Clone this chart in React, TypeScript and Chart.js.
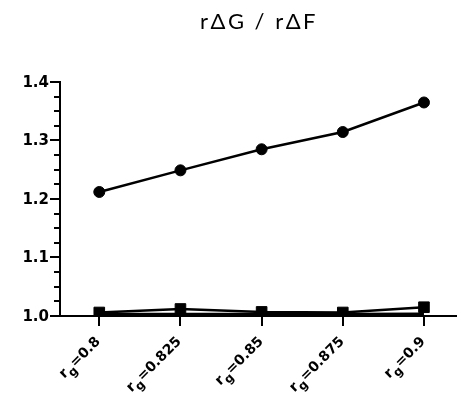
import React, { useEffect, useRef } from "react";
import { Chart, registerables } from "chart.js";

Chart.register(...registerables);

const titleText = "rΔG / rΔF";
const categories = ["0.8", "0.825", "0.85", "0.875", "0.9"];
const circleSeries = [1.212, 1.249, 1.285, 1.3145, 1.365];
const squareSeries = [1.006, 1.012, 1.007, 1.006, 1.015];
const lowerSeries = [1.0035, 1.0035, 1.0035, 1.0035, 1.004];
const yMajorTicks = [1.0, 1.1, 1.2, 1.3, 1.4];
const yMinorStep = 0.025;

const toPoints = (arr: number[]) => arr.map((y, i) => ({ x: i, y }));

const customPlugin = {
  id: "customAxes",
  afterDraw(chart: any) {
    const ctx = chart.ctx;
    const ys = chart.scales.y;
    const xs = chart.scales.x;
    const area = chart.chartArea;
    ctx.save();
    ctx.strokeStyle = "#000";
    ctx.fillStyle = "#000";
    ctx.lineWidth = 2;
    const yMin = yMajorTicks[0];
    const yMax = yMajorTicks[yMajorTicks.length - 1];
    const nMinor = Math.round((yMax - yMin) / yMinorStep);
    for (let i = 0; i <= nMinor; i++) {
      const v = yMin + i * yMinorStep;
      const py = Math.round(ys.getPixelForValue(v));
      const isMajor = i % 4 === 0;
      ctx.beginPath();
      ctx.moveTo(area.left, py);
      ctx.lineTo(area.left - (isMajor ? 10 : 6), py);
      ctx.stroke();
    }
    ctx.font = "bold 15px 'DejaVu Sans', sans-serif";
    ctx.textAlign = "right";
    ctx.textBaseline = "middle";
    yMajorTicks.forEach((v) => {
      const py = ys.getPixelForValue(v);
      ctx.fillText(v.toFixed(1), area.left - 11, py + 1);
    });
    categories.forEach((c, i) => {
      const px = Math.round(xs.getPixelForValue(i));
      ctx.beginPath();
      ctx.moveTo(px, area.bottom);
      ctx.lineTo(px, area.bottom + 10);
      ctx.stroke();
      ctx.save();
      ctx.translate(px + 2, area.bottom + 26);
      ctx.rotate(-Math.PI / 4);
      ctx.textBaseline = "alphabetic";
      ctx.textAlign = "left";
      const big = "bold 14px 'DejaVu Sans', sans-serif";
      const small = "bold 12px 'DejaVu Sans', sans-serif";
      ctx.font = big;
      const wR = ctx.measureText("r").width;
      const rest = "=" + c;
      const wRest = ctx.measureText(rest).width;
      ctx.font = small;
      const wG = ctx.measureText("g").width;
      const total = wR + wG + wRest;
      let xx = -total;
      ctx.font = big;
      ctx.fillText("r", xx, 0);
      xx += wR;
      ctx.font = small;
      ctx.fillText("g", xx, 5);
      xx += wG;
      ctx.font = big;
      ctx.fillText(rest, xx, 0);
      ctx.restore();
    });
    ctx.font = "22px Lato, 'Noto Sans', sans-serif";
    (ctx as any).letterSpacing = "2.5px";
    ctx.textAlign = "center";
    ctx.textBaseline = "middle";
    ctx.fillText(titleText, 259, 22);
    ctx.restore();
  },
};

export default function App() {
  const ref = useRef<HTMLCanvasElement | null>(null);
  useEffect(() => {
    document.body.style.margin = "0";
    const canvas = ref.current;
    if (!canvas) return;
    const chart = new Chart(canvas, {
      type: "line",
      data: {
        datasets: [
          {
            label: "lower",
            data: toPoints(lowerSeries),
            borderColor: "#000",
            backgroundColor: "#000",
            borderWidth: 2.5,
            pointRadius: 0,
          },
          {
            label: "square",
            data: toPoints(squareSeries),
            borderColor: "#000",
            backgroundColor: "#000",
            borderWidth: 2.5,
            pointBorderWidth: 1,
            pointStyle: "rect",
            pointRadius: 7.5,
          },
          {
            label: "circle",
            data: toPoints(circleSeries),
            borderColor: "#000",
            backgroundColor: "#000",
            borderWidth: 2.5,
            pointBorderWidth: 1,
            pointStyle: "circle",
            pointRadius: 5.5,
          },
        ],
      },
      options: {
        animation: false,
        responsive: false,
        maintainAspectRatio: false,
        layout: { autoPadding: false, padding: { left: 60, right: 0, top: 82, bottom: 77 } },
        plugins: { legend: { display: false }, tooltip: { enabled: false }, title: { display: false } },
        scales: {
          x: {
            type: "linear",
            min: -0.484,
            max: 4.407,
            ticks: { display: false },
            grid: { display: false, drawTicks: false },
            border: { display: true, color: "#000", width: 2 },
          },
          y: {
            min: 1.0,
            max: 1.4,
            ticks: { display: false },
            grid: { display: false, drawTicks: false },
            border: { display: true, color: "#000", width: 2 },
          },
        },
      },
      plugins: [customPlugin],
    });
    return () => chart.destroy();
  }, []);
  return (
    <div style={{ position: "absolute", left: 0, top: 0, width: 457, height: 393 }}>
      <canvas ref={ref} width={457} height={393} />
    </div>
  );
}
